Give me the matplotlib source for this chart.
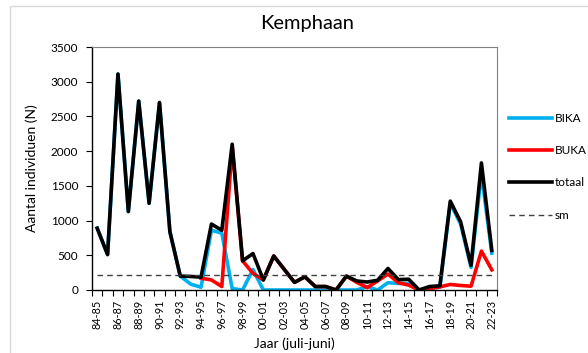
import numpy as np
import matplotlib
matplotlib.use("Agg")
import matplotlib.pyplot as plt
from matplotlib.patches import Rectangle

# seizoenen juli-juni, 84-85 t/m 22-23
jaren = [f"{j % 100:02d}-{(j + 1) % 100:02d}" for j in range(1984, 2023)]

totaal = [890, 510, 3110, 1130, 2720, 1250, 2700, 840, 200, 195,
          185, 950, 860, 2100, 420, 525, 145, 490, 300, 110,
          190, 50, 50, 0, 200, 130, 115, 140, 310, 150,
          155, 0, 50, 60, 1280, 980, 355, 1830, 570]
bika = [890, 510, 3110, 1130, 2720, 1250, 2700, 840, 200, 85,
        40, 860, 820, 20, 0, 295, 0, 0, 0, 0,
        0, 0, 0, 0, 0, 0, 50, 0, 105, 95,
        95, 0, 30, 40, 1250, 950, 325, 1680, 530]
buka = [np.nan] * 10 + [170, 145, 50, 2060, 420, 240, 145, 490, 300, 110,
                        190, 50, 50, 0, 200, 110, 35, 130, 230, 105,
                        70, 0, 20, 45, 80, 65, 55, 560, 290]
sm = [215] * len(jaren)

plt.rcParams["font.family"] = ["Lato", "DejaVu Sans"]

fig = plt.figure(figsize=(5.88, 3.53), dpi=100)
# lichtgrijze rand om het hele diagram
fig.patches.append(Rectangle((10 / 588, -0.1), 1.2, 1.1 - 6 / 353,
                             transform=fig.transFigure, fill=False,
                             edgecolor="#d9d9d9", linewidth=1))

ax = fig.add_axes([92 / 588, 63 / 353, 405 / 588, 243 / 353])
x = np.arange(len(jaren))

ax.plot(x, bika, color="#00b0f0", linewidth=2.6, label="BIKA")
ax.plot(x, buka, color="#ff0000", linewidth=2.6, label="BUKA")
ax.plot(x, totaal, color="black", linewidth=2.6, label="totaal")
ax.plot(x, sm, color="#404040", linewidth=1.0, linestyle=(0, (4, 3)), label="sm")

ax.set_xlim(-0.5, len(jaren) - 0.5)
ax.set_ylim(0, 3500)
ax.set_yticks(np.arange(0, 3501, 500))
ax.tick_params(axis="y", labelsize=8.5, length=4, direction="out", width=0.8, pad=6)

# labels op elk tweede seizoen, streepjes tussen de categorieen
ax.set_xticks(x[::2])
ax.set_xticklabels(jaren[::2], rotation=90, fontsize=7.8)
ax.tick_params(axis="x", which="major", length=0, pad=7)
ax.set_xticks(np.arange(-0.5, len(jaren), 1), minor=True)
ax.tick_params(axis="x", which="minor", length=4, direction="out", width=0.8)

for kant in ["top", "right"]:
    ax.spines[kant].set_color("#808080")
    ax.spines[kant].set_linewidth(0.8)
for kant in ["left", "bottom"]:
    ax.spines[kant].set_color("black")
    ax.spines[kant].set_linewidth(1.0)

ax.set_ylabel("Aantal individuen (N)", fontsize=10, labelpad=9)
ax.set_xlabel("Jaar (juli-juni)", fontsize=10, labelpad=6)
fig.text(307 / 588, 1 - 23 / 353, "Kemphaan", ha="center", va="center", fontsize=14.5)

fig.legend(loc="upper left", bbox_to_anchor=(509 / 588, 1 - 113 / 353),
           frameon=False, fontsize=8.5, handlelength=3.6, handletextpad=0.3,
           labelspacing=1.8, borderpad=0, borderaxespad=0)

fig.savefig("out.png", dpi=100)
